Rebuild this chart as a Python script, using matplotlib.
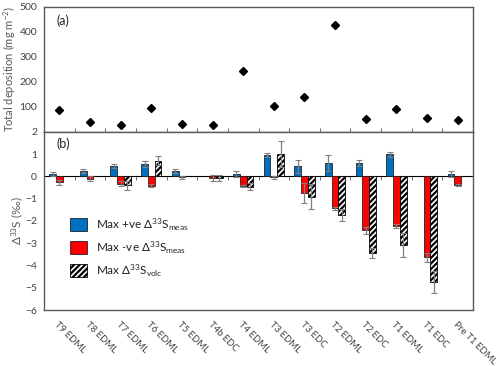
import numpy as np
import matplotlib
matplotlib.use("Agg")
import matplotlib.pyplot as plt

plt.rcParams['font.family'] = ['Lato', 'DejaVu Sans']
plt.rcParams['mathtext.fontset'] = 'custom'
plt.rcParams['mathtext.rm'] = 'Lato'
plt.rcParams['mathtext.it'] = 'Lato:italic'
plt.rcParams['hatch.linewidth'] = 1.6

categories = ['T9 EDML', 'T8 EDML', 'T7 EDML', 'T6 EDML', 'T5 EDML', 'T4b EDC', 'T4 EDML',
              'T3 EDML', 'T3 EDC', 'T2 EDML', 'T2 EDC', 'T1 EDML', 'T1 EDC', 'Pre T1 EDML']

# (a) total deposition, mg m-2
deposition = [88, 38, 28, 97, 32, 28, 243, 105, 138, 429, 51, 92, 55, 47]

# (b) D33S, permil
nan = np.nan
pos_meas = [0.10, 0.25, 0.46, 0.55, 0.25, nan, 0.10, 0.95, 0.45, 0.60, 0.60, 0.98, nan, 0.12]
pos_err = [0.10, 0.10, 0.09, 0.15, 0.10, nan, 0.15, 0.10, 0.30, 0.35, 0.15, 0.12, nan, 0.13]
neg_meas = [-0.27, -0.10, -0.33, -0.42, -0.05, -0.08, -0.42, -0.05, -0.76, -1.43, -2.43, -2.23, -3.63, -0.39]
neg_err = [0.10, 0.13, 0.10, 0.07, 0.08, 0.12, 0.05, 0.05, 0.45, 0.07, 0.15, 0.10, 0.20, 0.05]
volc = [nan, nan, -0.40, 0.70, nan, -0.08, -0.47, 1.00, -0.91, -1.72, -3.44, -3.08, -4.75, nan]
volc_err = [nan, nan, 0.20, 0.20, nan, 0.12, 0.15, 0.58, 0.57, 0.27, 0.24, 0.52, 0.50, nan]

spine_c = '#595959'
txt_c = '#404040'
x = np.arange(len(categories))
bounds = np.arange(len(categories) - 1) + 0.5

fig = plt.figure(figsize=(5, 3.66), dpi=100)
L, R = 0.088, 0.946
ax1 = fig.add_axes([L, 0.640, R - L, 0.981 - 0.640])
ax2 = fig.add_axes([L, 0.153, R - L, 0.640 - 0.153])

# ---- panel (a)
ax1.plot(x, deposition, ls='none', marker='D', ms=4, color='black')
ax1.set_xlim(-0.5, len(categories) - 0.5)
ax1.set_ylim(0, 500)
ax1.set_yticks([100, 200, 300, 400, 500])
ax1.set_xticks([])
ax1.set_xticks(bounds, minor=True)
ax1.tick_params(axis='x', which='minor', direction='in', length=3, color=spine_c)
ax1.tick_params(axis='y', length=0, pad=5, labelsize=7.5, labelcolor=txt_c)
ax1.set_ylabel('Total deposition (mg m$^{-2}$)', fontsize=8, color=spine_c, labelpad=1)
ax1.text(0.028, 0.89, '(a)', transform=ax1.transAxes, fontsize=9, va='center', color='#222222')

# ---- panel (b)
w = 0.22
ekw = dict(ecolor='#808080', elinewidth=0.9, capsize=2, capthick=0.8)
ax2.bar(x - w, pos_meas, w, yerr=pos_err, color='#0070C0', edgecolor='#222222', lw=0.6,
        error_kw=ekw, label='Max +ve $\\Delta^{33}$S$_{\\mathrm{meas}}$')
ax2.bar(x, neg_meas, w, yerr=neg_err, color='#FF0000', edgecolor='#222222', lw=0.6,
        error_kw=ekw, label='Max -ve $\\Delta^{33}$S$_{\\mathrm{meas}}$')
ax2.bar(x + w, volc, w, yerr=volc_err, color='white', edgecolor='black', lw=0.6,
        hatch='//////', error_kw=ekw, label='Max $\\Delta^{33}$S$_{\\mathrm{volc}}$')
ax2.set_xlim(-0.5, len(categories) - 0.5)
ax2.set_ylim(-6, 2)
ax2.set_yticks(np.arange(-6, 3, 1))
ax2.set_xticks(x)
ax2.set_xticklabels(categories, rotation=-45, ha='left', va='top', rotation_mode='anchor',
                    fontsize=6.8, color=txt_c)
ax2.tick_params(axis='x', length=0, pad=7)
ax2.tick_params(axis='y', length=0, pad=5, labelsize=7.5, labelcolor=txt_c)
ax2.set_ylabel('$\\Delta^{33}$S (‰)', fontsize=8.5, color=spine_c, labelpad=0)
ax2.text(0.028, 0.935, '(b)', transform=ax2.transAxes, fontsize=9, va='center', color='#222222')

zero = ax2.secondary_xaxis(0.75)
zero.set_xticks([])
zero.set_xticks(bounds, minor=True)
zero.tick_params(which='minor', direction='in', length=3, color=spine_c)
zero.spines['bottom'].set_color(spine_c)
zero.spines['bottom'].set_linewidth(1.0)

for ax in (ax1, ax2):
    for s in ax.spines.values():
        s.set_color(spine_c)
        s.set_linewidth(1.0)

ax2.legend(loc='upper left', bbox_to_anchor=(0.061, 0.525), frameon=False, fontsize=8.5,
           handlelength=1.45, handleheight=1.25, handletextpad=0.7, labelspacing=0.55,
           borderpad=0, borderaxespad=0, labelcolor='#222222')

fig.savefig('out.png', dpi=100)
